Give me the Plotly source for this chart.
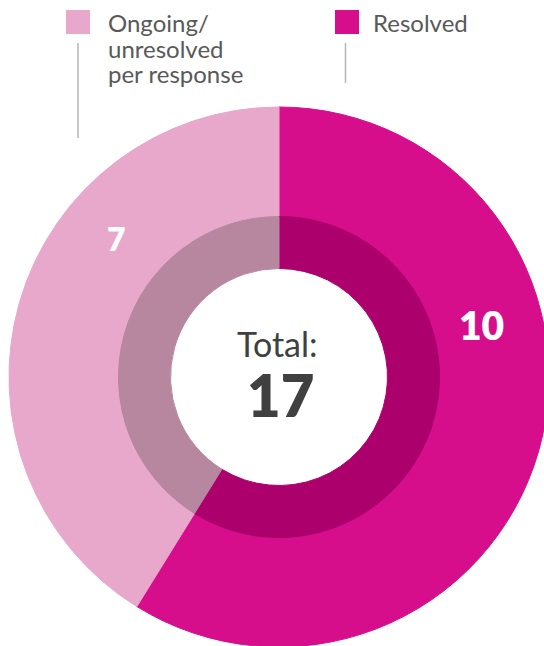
import plotly.graph_objects as go

# ---- data ----
categories = ["Resolved", "Ongoing/unresolved per response"]
legend_lines = [["Resolved"], ["Ongoing/", "unresolved", "per response"]]
values = [10, 7]
outer_colors = ["#D60E8C", "#E8A8CB"]
inner_colors = ["#AC006D", "#B7869F"]
total_label = "Total:"

# ---- canvas geometry (pixels) ----
W, H = 552, 650
CX, CY = 279, 377
R_OUT, R_MID, R_HOLE = 270, 160.5, 108.5
FONT = "Lato"


def px_x(x):
    return x / W


def px_y(y):
    return 1 - y / H


def dom(r):
    return dict(x=[(CX - r) / W, (CX + r) / W],
                y=[(H - CY - r) / H, (H - CY + r) / H])


fig = go.Figure()
fig.add_trace(go.Pie(
    labels=categories, values=values, sort=False, direction="clockwise",
    rotation=0, hole=(R_MID - 4) / R_OUT, domain=dom(R_OUT),
    marker=dict(colors=outer_colors, line=dict(color=outer_colors, width=1)),
    textinfo="none", hoverinfo="label+value", showlegend=False))
fig.add_trace(go.Pie(
    labels=categories, values=values, sort=False, direction="clockwise",
    rotation=0, hole=R_HOLE / R_MID, domain=dom(R_MID),
    marker=dict(colors=inner_colors, line=dict(color=inner_colors, width=1)),
    textinfo="none", hoverinfo="label+value", showlegend=False))

ann = []
shapes = []

# value labels
label_pos = [(481.3, 325.0, 39), (116.3, 238.0, 32)]
for v, (x, y, s) in zip(values, label_pos):
    ann.append(dict(x=px_x(x), y=px_y(y), xref="paper", yref="paper",
                    text=str(v), showarrow=False, xanchor="center",
                    yanchor="middle", borderpad=0,
                    font=dict(family=FONT, size=s, color="white", weight=800)))

# center text
ann.append(dict(x=px_x(277), y=px_y(343), xref="paper", yref="paper",
                text=total_label, showarrow=False, xanchor="center",
                yanchor="middle", borderpad=0,
                font=dict(family=FONT, size=34, color="#404040")))
ann.append(dict(x=px_x(280), y=px_y(395), xref="paper", yref="paper",
                text=str(sum(values)), showarrow=False, xanchor="center",
                yanchor="middle", borderpad=0,
                font=dict(family=FONT, size=58, color="#404040", weight=800)))

# custom legend
leg_sq_x = [335, 66]
leg_text_x = [372, 107]
leg_line = [(345.5, 43, 83), (78, 43, 138)]
baselines = [31.7, 57.5, 83.0]
for i, lines in enumerate(legend_lines):
    shapes.append(dict(type="rect", xref="paper", yref="paper",
                       x0=px_x(leg_sq_x[i]), x1=px_x(leg_sq_x[i] + 24),
                       y0=px_y(10), y1=px_y(34), line=dict(width=0),
                       fillcolor=outer_colors[i]))
    lx, ly0, ly1 = leg_line[i]
    shapes.append(dict(type="line", xref="paper", yref="paper",
                       x0=px_x(lx), x1=px_x(lx), y0=px_y(ly0), y1=px_y(ly1),
                       line=dict(color="#B4B4B4", width=1.5)))
    for j, t in enumerate(lines):
        ann.append(dict(x=px_x(leg_text_x[i]), y=px_y(baselines[j] - 9.0),
                        xref="paper", yref="paper", text=t, showarrow=False,
                        xanchor="left", yanchor="middle", borderpad=0,
                        font=dict(family=FONT, size=24, color="#595959")))

fig.update_layout(width=W, height=H, margin=dict(l=0, r=0, t=0, b=0),
                  paper_bgcolor="white", plot_bgcolor="white",
                  annotations=ann, shapes=shapes, showlegend=False)

fig.write_html("out.html", config={"displayModeBar": False},
               post_script="document.documentElement.style.overflow='hidden';"
                           "document.body.style.overflow='hidden';")
